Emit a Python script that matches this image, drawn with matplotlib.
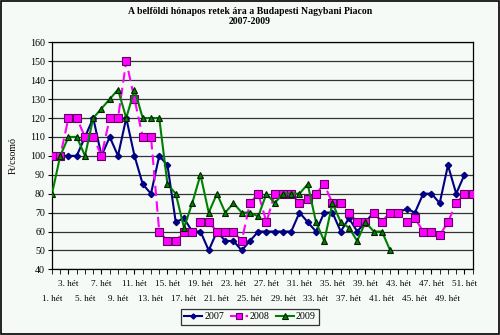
import matplotlib
matplotlib.use("Agg")
import matplotlib.pyplot as plt
import numpy as np
from matplotlib.patches import Rectangle

nan = np.nan

weeks = list(range(1, 53))

# Ft/csomó, weekly averages
price_2007 = [100, 100, 100, 100, 110, 120, 100, 110, 100, 120, 100, 85, 80,
              100, 95, 65, 67, 60, 60, 50, 60, 55, 55, 50, 55, 60, 60, 60,
              60, 60, 70, 65, 60, 70, 70, 60, 67, 60, 65, 70, 65, 70, 70,
              72, 70, 80, 80, 75, 95, 80, 90, nan]
price_2008 = [100, 100, 120, 120, 110, 110, 100, 120, 120, 150, 130, 110, 110,
              60, 55, 55, 60, 60, 65, 65, 60, 60, 60, 55, 75, 80, 65, 80,
              80, 80, 75, 77, 80, 85, 75, 75, 70, 65, 65, 70, 65, 70, 70,
              65, 67, 60, 60, 58, 65, 75, 80, 80]
price_2009 = [80, 100, 110, 110, 100, 120, 125, 130, 135, 120, 135, 120, 120,
              120, 85, 80, 62, 75, 90, 70, 80, 70, 75, 70, 70, 68, 80, 75,
              80, 80, 80, 85, 65, 55, 75, 65, 62, 55, 65, 60, 60, 50,
              nan, nan, nan, nan, nan, nan, nan, nan, nan, nan]

title = "A belföldi hónapos retek ára a Budapesti Nagybani Piacon\n2007-2009"
y_label = "Ft/csomó"

bg = "#f6faf6"
serif = ["Liberation Serif", "DejaVu Serif"]
plt.rcParams["font.family"] = serif

fig = plt.figure(figsize=(5.0, 3.35), dpi=100, facecolor=bg)
ax = fig.add_axes([0.104, 0.196, 0.8414, 0.6776], facecolor=bg)

ax.plot(weeks, price_2007, color="#000080", lw=1.5, marker="D", ms=3.2,
        mfc="#000080", mec="#000080", label="2007", zorder=3)
ax.plot(weeks, price_2008, color="#ff00ff", lw=1.5, ls=(0, (5, 2.5)), marker="s", ms=5.2,
        mfc="#ff00ff", mec="#600060", mew=0.8, label="2008", zorder=4)
ax.plot(weeks, price_2009, color="#008000", lw=1.5, marker="^", ms=5,
        mfc="#008000", mec="#002000", mew=0.8, label="2009", zorder=5)

ax.set_xlim(1, 52)
ax.set_ylim(40, 160)
ax.set_yticks(range(40, 161, 10))
ax.grid(axis="y", color="#333333", lw=0.9)
ax.set_axisbelow(True)

# upper row: 3., 7., 11. ... ; lower row: 1., 5., 9. ...
upper = [w for w in weeks if w % 4 == 3]
rest = [w for w in weeks if w % 4 != 3]
ax.set_xticks(upper)
ax.set_xticklabels([f"{w}. hét" for w in upper], fontsize=6.6)
ax.set_xticks(rest, minor=True)
ax.set_xticklabels([f"{w}. hét" if w % 4 == 1 else "" for w in rest],
                   minor=True, fontsize=6.6)
ax.tick_params(axis="x", which="major", length=3.5, direction="out", pad=4)
ax.tick_params(axis="x", which="minor", length=3.5, direction="out", pad=15)
ax.tick_params(axis="y", length=3, direction="out", labelsize=7.2, pad=2)

for s in ax.spines.values():
    s.set_color("black")
    s.set_linewidth(0.9)

ax.set_ylabel(y_label, fontsize=7.2)
ax.yaxis.set_label_coords(-0.082, 0.5)

fig.text(0.5, 0.95, title, ha="center", va="center", fontsize=7,
         fontweight="bold", linespacing=1.15)

leg = fig.legend(loc="center", bbox_to_anchor=(0.5, 0.054), ncol=3, fontsize=7.2,
                 frameon=True, fancybox=False, edgecolor="black", facecolor=bg,
                 handlelength=1.8, handletextpad=0.2, columnspacing=0.6,
                 borderpad=0.35, markerscale=0.8)
leg.get_frame().set_linewidth(0.9)

fig.patches.append(Rectangle((0.002, 0.003), 0.996, 0.994, transform=fig.transFigure,
                             fill=False, edgecolor="black", lw=1.2))

fig.savefig("out.png", dpi=100, facecolor=bg)
